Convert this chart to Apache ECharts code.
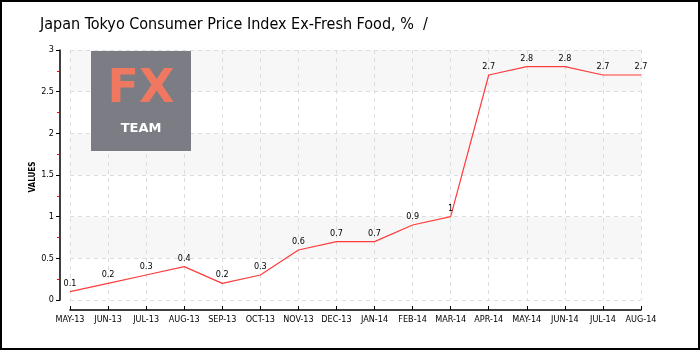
<!DOCTYPE html>
<html><head><meta charset="utf-8">
<script src="https://cdn.jsdelivr.net/npm/echarts@6/dist/echarts.min.js"></script>
<style>html,body{margin:0;padding:0;background:#fff}#c{width:700px;height:350px;box-sizing:border-box;border:2px solid #000}</style>
</head><body><div id="c"></div>
<script>
const categories = ['MAY-13','JUN-13','JUL-13','AUG-13','SEP-13','OCT-13','NOV-13','DEC-13','JAN-14','FEB-14','MAR-14','APR-14','MAY-14','JUN-14','JUL-14','AUG-14'];
const values = [0.1,0.2,0.3,0.4,0.2,0.3,0.6,0.7,0.7,0.9,1,2.7,2.8,2.8,2.7,2.7];
const titleText = 'Japan Tokyo Consumer Price Index Ex-Fresh Food, %  /';

const chart = echarts.init(document.getElementById('c'), null, {renderer:'canvas'});
const tickFont = {fontFamily:'DejaVu Sans Condensed', fontSize:9, color:'#000'};
chart.setOption({
  animation:false,
  title:{text:titleText, left:33, top:10, textStyle:{fontFamily:'DejaVu Sans Condensed', fontSize:16, fontWeight:'normal', color:'#000'}},
  grid:{left:68, right:57, top:48, bottom:48},
  graphic:[
    {type:'rect', x:89, y:49, z:10, shape:{x:0,y:0,width:100,height:100}, style:{fill:'#7c7c84'}},
    {type:'text', x:139, y:88, z:11, style:{text:'FX', fill:'#f07860', font:'bold 46px "DejaVu Sans"', align:'center', verticalAlign:'middle'}},
    {type:'text', x:139, y:127, z:11, style:{text:'TEAM', fill:'#ffffff', font:'bold 13px "DejaVu Sans"', align:'center', verticalAlign:'middle'}},
    {type:'text', x:31, y:175, rotation:Math.PI/2, z:11, style:{text:'VALUES', fill:'#000', font:'bold 8px "DejaVu Sans Condensed"', align:'center', verticalAlign:'middle'}}
  ],
  xAxis:{type:'category', data:categories, boundaryGap:false, offset:10,
    axisLine:{show:true, onZero:false, lineStyle:{color:'#000', width:1.5}},
    axisTick:{show:true, length:4, inside:true, lineStyle:{color:'#000'}},
    axisLabel:Object.assign({margin:5, interval:0}, tickFont),
    splitLine:{show:true, lineStyle:{type:[4,4], color:'#ddd'}}},
  yAxis:{type:'value', min:0, max:3, interval:0.5, offset:10,
    axisLine:{show:true, lineStyle:{color:'#000', width:1.5}},
    axisTick:{show:true, length:4, lineStyle:{color:'#000'}},
    minorTick:{show:true, splitNumber:2, length:3, lineStyle:{color:'#e00'}},
    axisLabel:Object.assign({margin:6, formatter:v=>String(v)}, tickFont),
    splitLine:{show:true, lineStyle:{type:[4,4], color:'#ddd'}},
    splitArea:{show:true, areaStyle:{color:['#ffffff','#f7f7f7']}}},
  series:[{type:'line', data:values, symbol:'circle', symbolSize:2, showSymbol:true, z:5,
    itemStyle:{color:'rgba(255,59,59,0)', borderWidth:0},
    lineStyle:{color:'#ff3b3b', width:1.2},
    labelLayout:{hideOverlap:false},
    label:{show:true, position:'top', distance:3, fontFamily:'DejaVu Sans Condensed', fontSize:9, color:'#000'}}]
});
</script></body></html>
